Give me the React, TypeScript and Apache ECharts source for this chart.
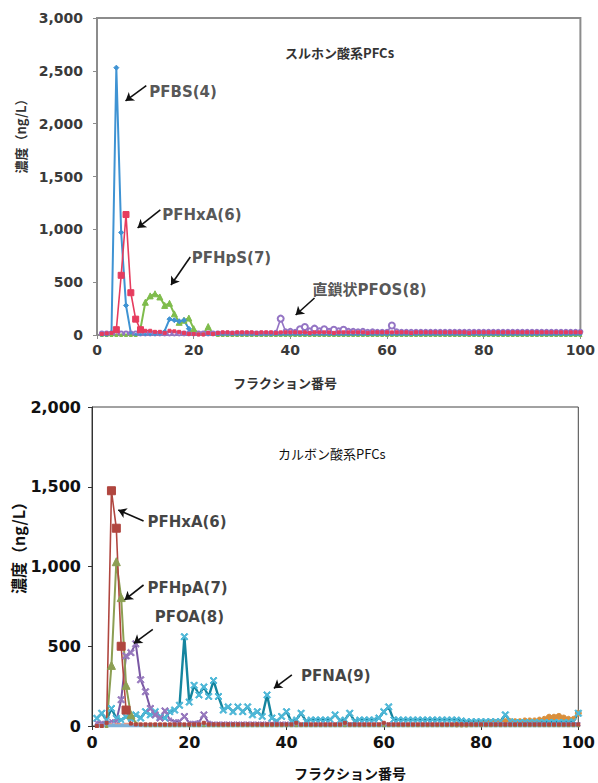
import React, { useEffect, useRef } from "react";
import * as echarts from "echarts";

// Fraction numbers 1..100
const fractions: number[] = [
  1, 2, 3, 4, 5, 6, 7, 8, 9, 10, 11, 12, 13, 14, 15, 16, 17, 18, 19, 20,
  21, 22, 23, 24, 25, 26, 27, 28, 29, 30, 31, 32, 33, 34, 35, 36, 37, 38, 39, 40,
  41, 42, 43, 44, 45, 46, 47, 48, 49, 50, 51, 52, 53, 54, 55, 56, 57, 58, 59, 60,
  61, 62, 63, 64, 65, 66, 67, 68, 69, 70, 71, 72, 73, 74, 75, 76, 77, 78, 79, 80,
  81, 82, 83, 84, 85, 86, 87, 88, 89, 90, 91, 92, 93, 94, 95, 96, 97, 98, 99, 100,
];

const xTicks = [0, 20, 40, 60, 80, 100];
const topYTicks = [0, 500, 1000, 1500, 2000, 2500, 3000];
const botYTicks = [0, 500, 1000, 1500, 2000];

// ---- Top chart: sulfonic acid PFCs ----
const topPFBS: number[] = [
  0, 0, 30, 2530, 970, 280, 20, 5, 5, 5,
  5, 5, 10, 40, 150, 140, 130, 140, 60, 10,
  5, 5, 5, 5, 5, 5, 5, 5, 5, 5,
  5, 5, 5, 5, 5, 5, 5, 5, 5, 5,
  5, 5, 5, 5, 5, 5, 5, 5, 5, 5,
  5, 5, 5, 5, 5, 5, 5, 5, 5, 5,
  5, 5, 5, 5, 5, 5, 5, 5, 5, 5,
  5, 5, 5, 5, 5, 5, 5, 5, 5, 5,
  5, 5, 5, 5, 5, 5, 5, 5, 5, 5,
  5, 5, 5, 5, 5, 5, 5, 5, 5, 5,
];
const topPFHxA: number[] = [
  10, 15, 20, 50, 565, 1140, 400, 150, 50, 40,
  40, 30, 30, 20, 40, 35, 30, 20, 10, 10,
  5, 5, 20, 10, 20, 25, 25, 20, 25, 25,
  25, 25, 20, 25, 25, 25, 20, 25, 25, 25,
  25, 25, 25, 20, 25, 25, 25, 25, 20, 25,
  25, 25, 25, 25, 25, 20, 25, 25, 25, 25,
  25, 25, 25, 25, 20, 25, 25, 25, 25, 25,
  25, 25, 25, 25, 25, 25, 20, 25, 25, 25,
  25, 25, 25, 25, 25, 25, 25, 25, 25, 25,
  25, 25, 25, 25, 25, 25, 25, 25, 25, 25,
];
const topPFHpS: number[] = [
  0, 0, 0, 0, 0, 0, 0, 0, 60, 310,
  370, 390, 360, 280, 300, 200, 120, 140, 160, 60,
  10, 10, 80, 10, 0, 0, 0, 0, 0, 0,
  0, 0, 0, 0, 0, 0, 0, 0, 0, 0,
  0, 0, 0, 0, 0, 0, 0, 0, 0, 0,
  0, 0, 0, 0, 0, 0, 0, 0, 0, 0,
  0, 0, 0, 0, 0, 0, 0, 0, 0, 0,
  0, 0, 0, 0, 0, 0, 0, 0, 0, 0,
  0, 0, 0, 0, 0, 0, 0, 0, 0, 0,
  0, 0, 0, 0, 0, 0, 0, 0, 0, 0,
];
const topPFOS: number[] = [
  15, 15, 15, 15, 15, 15, 15, 15, 15, 15,
  15, 15, 15, 15, 15, 15, 15, 15, 15, 15,
  15, 15, 15, 15, 15, 15, 15, 15, 15, 15,
  15, 15, 15, 15, 15, 15, 20, 155, 35, 40,
  30, 55, 75, 45, 60, 45, 55, 40, 50, 45,
  50, 40, 40, 35, 40, 30, 35, 30, 30, 30,
  90, 35, 30, 30, 30, 30, 30, 30, 30, 30,
  30, 30, 30, 30, 30, 30, 30, 30, 30, 30,
  30, 30, 30, 30, 30, 30, 30, 30, 30, 30,
  30, 30, 30, 30, 30, 30, 30, 30, 30, 30,
];

// ---- Bottom chart: carboxylic acid PFCs ----
const botPFHxA: number[] = [
  0, 0, 20, 1475, 1240, 500, 100, 15, 10, 10,
  10, 10, 10, 10, 10, 10, 10, 10, 10, 10,
  10, 10, 20, 10, 10, 10, 10, 10, 10, 10,
  10, 10, 10, 10, 10, 10, 10, 10, 10, 10,
  10, 20, 10, 10, 10, 10, 10, 10, 10, 10,
  10, 20, 10, 10, 10, 10, 10, 10, 10, 20,
  10, 10, 10, 10, 10, 10, 10, 10, 10, 10,
  10, 10, 10, 10, 10, 10, 10, 10, 10, 10,
  10, 10, 10, 10, 10, 10, 10, 10, 10, 10,
  10, 10, 10, 10, 10, 10, 10, 10, 10, 10,
];
const botPFHpA: number[] = [
  0, 0, 0, 380, 1030, 805, 255, 70, 20, 10,
  5, 5, 5, 5, 5, 5, 5, 5, 5, 5,
  5, 5, 5, 5, 5, 5, 5, 5, 5, 5,
  5, 5, 5, 5, 5, 5, 5, 5, 5, 5,
  5, 5, 5, 5, 5, 5, 5, 5, 5, 5,
  5, 5, 5, 5, 5, 5, 5, 5, 5, 5,
  5, 5, 5, 5, 5, 5, 5, 5, 5, 5,
  5, 5, 5, 5, 5, 5, 5, 5, 5, 5,
  5, 5, 5, 5, 5, 5, 5, 5, 5, 5,
  5, 5, 5, 5, 5, 5, 5, 5, 5, 5,
];
const botPFOA: number[] = [
  20, 20, 20, 30, 30, 165, 440, 460, 515, 290,
  215, 110, 70, 50, 95, 40, 30, 30, 60, 20,
  20, 25, 70, 20, 15, 15, 15, 15, 15, 15,
  15, 15, 15, 15, 15, 15, 15, 15, 15, 15,
  10, 10, 10, 10, 10, 10, 10, 10, 10, 10,
  10, 10, 10, 10, 10, 10, 10, 10, 10, 10,
  10, 10, 10, 10, 10, 10, 10, 10, 10, 10,
  10, 10, 10, 10, 10, 10, 10, 10, 10, 10,
  10, 10, 10, 10, 10, 10, 10, 10, 10, 10,
  10, 10, 10, 10, 10, 10, 10, 10, 10, 10,
];
const botPFNA: number[] = [
  48, 80, 38, 110, 48, 38, 58, 45, 70, 50,
  90, 70, 90, 58, 50, 90, 100, 130, 560, 150,
  255, 195, 245, 185, 285, 185, 100, 120, 90, 120,
  90, 120, 70, 90, 60, 195, 50, 30, 60, 90,
  30, 40, 80, 30, 40, 40, 40, 40, 40, 70,
  35, 40, 80, 30, 40, 40, 40, 40, 50, 90,
  120, 40, 40, 40, 40, 40, 40, 40, 40, 40,
  40, 40, 40, 40, 40, 35, 30, 30, 30, 30,
  30, 30, 30, 30, 70, 30, 25, 25, 25, 25,
  25, 25, 25, 25, 25, 25, 25, 25, 30, 80,
];
const botPFDA: (number | null)[] = [
  null, null, null, null, null, null, null, null, null, null,
  null, null, null, null, null, null, null, null, null, null,
  null, null, null, null, null, null, null, null, null, null,
  null, null, null, null, null, null, null, null, null, null,
  null, null, null, null, null, null, null, null, null, null,
  null, null, null, null, null, null, null, null, null, null,
  null, null, null, null, null, null, null, null, null, null,
  null, null, null, null, 10, 10, 10, 15, 15, 20,
  20, 25, 25, 25, 30, 30, 30, 30, 35, 35,
  35, 40, 45, 55, 55, 60, 50, 45, 45, 80,
];
const botBaseA: number[] = [
  5, 5, 5, 5, 5, 5, 5, 5, 5, 5,
  5, 5, 5, 5, 5, 5, 5, 5, 5, 5,
  5, 5, 5, 5, 5, 5, 5, 5, 5, 5,
  5, 5, 5, 5, 5, 5, 5, 5, 5, 5,
  5, 5, 5, 5, 5, 5, 5, 5, 5, 5,
  5, 5, 5, 5, 5, 5, 5, 5, 5, 5,
  5, 5, 5, 5, 5, 5, 5, 5, 5, 5,
  5, 5, 5, 5, 5, 5, 5, 5, 5, 5,
  5, 5, 5, 5, 5, 5, 5, 5, 5, 5,
  5, 5, 5, 5, 5, 5, 5, 5, 5, 5,
];
const botBaseB: number[] = [
  15, 15, 15, 15, 15, 15, 15, 15, 15, 15,
  15, 15, 15, 15, 15, 15, 15, 15, 15, 15,
  15, 15, 15, 15, 15, 15, 15, 15, 15, 15,
  15, 15, 15, 15, 15, 15, 15, 15, 15, 15,
  15, 15, 15, 15, 15, 15, 15, 15, 15, 15,
  15, 15, 15, 15, 15, 15, 15, 15, 15, 15,
  15, 15, 15, 15, 15, 15, 15, 15, 15, 15,
  15, 15, 15, 15, 15, 15, 15, 15, 15, 15,
  15, 15, 15, 15, 15, 15, 15, 15, 15, 15,
  15, 15, 15, 15, 15, 15, 15, 15, 15, 15,
];

// annotations (data coordinates): text anchor and arrow tail -> head
const topNotes = [
  { text: "PFBS(4)", tx: 10.8, ty: 2300, x1: 10.2, y1: 2360, x2: 5.9, y2: 2215 },
  { text: "PFHxA(6)", tx: 13.5, ty: 1136, x1: 13.1, y1: 1183, x2: 8.4, y2: 1013 },
  { text: "PFHpS(7)", tx: 19.6, ty: 729, x1: 19.3, y1: 738, x2: 15.3, y2: 473 },
  { text: "直鎖状PFOS(8)", tx: 44.6, ty: 426, x1: 45.0, y1: 350, x2: 41.1, y2: 189 },
];
const botNotes = [
  { text: "PFHxA(6)", tx: 11.4, ty: 1279, x1: 10.6, y1: 1285, x2: 5.4, y2: 1354 },
  { text: "PFHpA(7)", tx: 11.4, ty: 865, x1: 10.6, y1: 884, x2: 6.7, y2: 790 },
  { text: "PFOA(8)", tx: 12.9, ty: 683, x1: 12.5, y1: 606, x2: 8.6, y2: 518 },
  { text: "PFNA(9)", tx: 43.0, ty: 313, x1: 41.1, y1: 320, x2: 37.4, y2: 236 },
];

const LAT = '"DejaVu Sans", "Liberation Sans", sans-serif';
const CJK = '"Noto Sans CJK JP", sans-serif';
const XMARK =
  "path://M0,1.5L1.5,0L5,3.5L8.5,0L10,1.5L6.5,5L10,8.5L8.5,10L5,6.5L1.5,10L0,8.5L3.5,5Z";

function pairs(arr: (number | null)[]) {
  const out: [number, number][] = [];
  fractions.forEach((f, i) => {
    const v = arr[i];
    if (v !== null && v !== undefined) out.push([f, v]);
  });
  return out;
}

function lineSeries(
  name: string,
  arr: (number | null)[],
  axis: number,
  color: string,
  markColor: string,
  symbol: string,
  big: number,
  small: number,
  width: number,
  extra: any = {}
) {
  return {
    name,
    type: "line",
    xAxisIndex: axis,
    yAxisIndex: axis,
    data: pairs(arr),
    symbol,
    symbolSize: (v: number[]) => (v[1] > 45 ? big : small),
    showAllSymbol: true,
    lineStyle: { color, width, ...(extra.lineStyle || {}) },
    itemStyle: { color: markColor, borderColor: markColor },
    silent: true,
  };
}

function noteSeries(notes: typeof topNotes, axis: number, color: string) {
  return [
    {
      type: "lines",
      coordinateSystem: "cartesian2d",
      xAxisIndex: axis,
      yAxisIndex: axis,
      symbol: ["none", "arrow"],
      symbolSize: 8,
      lineStyle: { color: "#111", width: 1.6, opacity: 1, curveness: 0 },
      data: notes.map((n) => ({ coords: [[n.x1, n.y1], [n.x2, n.y2]] })),
      silent: true,
      z: 20,
    },
    {
      type: "scatter",
      xAxisIndex: axis,
      yAxisIndex: axis,
      symbolSize: 0,
      itemStyle: { color: "rgba(0,0,0,0)" },
      data: notes.map((n) => ({ value: [n.tx, n.ty], name: n.text })),
      label: {
        show: true,
        position: "right",
        distance: 0,
        formatter: "{b}",
        fontFamily: `${LAT}, ${CJK}`,
        fontWeight: "bold",
        fontSize: 15,
        color,
      },
      silent: true,
      z: 20,
    },
  ];
}

export default function App() {
  const ref = useRef<HTMLDivElement>(null);
  useEffect(() => {
    if (!ref.current) return;
    const chart = echarts.init(ref.current, null, { renderer: "svg" });
    const fmt = (v: number) => v.toLocaleString("en-US");
    const xAxisBase = (grid: number, color: string, lw: number, fs: number, lc: string) => ({
      type: "value",
      gridIndex: grid,
      min: xTicks[0],
      max: xTicks[xTicks.length - 1],
      interval: xTicks[1] - xTicks[0],
      axisLine: { show: true, lineStyle: { color, width: lw } },
      axisTick: { show: true, inside: false, length: 4, lineStyle: { color, width: 1 } },
      splitLine: { show: false },
      axisLabel: { fontFamily: LAT, fontWeight: "bold", fontSize: fs, color: lc, margin: 8 },
    });
    const yAxisBase = (grid: number, ticks: number[], color: string, lw: number, fs: number, lc: string, margin: number) => ({
      type: "value",
      gridIndex: grid,
      min: ticks[0],
      max: ticks[ticks.length - 1],
      interval: ticks[1] - ticks[0],
      axisLine: { show: true, lineStyle: { color, width: lw } },
      axisTick: { show: true, inside: false, length: 4, lineStyle: { color, width: 1 } },
      splitLine: { show: false },
      axisLabel: { fontFamily: LAT, fontWeight: "bold", fontSize: fs, color: lc, margin, formatter: fmt },
    });

    chart.setOption({
      animation: false,
      backgroundColor: "#ffffff",
      grid: [
        { left: 97, top: 18, width: 489, height: 317, show: true, borderColor: "#8c8c8c", borderWidth: 2, backgroundColor: "#fff" },
        { left: 92, top: 407, width: 490, height: 319, show: true, borderColor: "#444", borderWidth: 1, backgroundColor: "#fff" },
      ],
      xAxis: [
        xAxisBase(0, "#8c8c8c", 2, 14, "#3a3a3a"),
        xAxisBase(1, "#333", 1, 16, "#111"),
      ],
      yAxis: [
        yAxisBase(0, topYTicks, "#8c8c8c", 2, 14, "#3a3a3a", 14),
        yAxisBase(1, botYTicks, "#333", 1, 16, "#111", 11),
      ],
      graphic: [
        { type: "text", x: 20, y: 133, rotation: Math.PI / 2, style: { text: "濃度（ng/L）", font: `bold 13px ${CJK}`, fill: "#333", textAlign: "center", textVerticalAlign: "middle" } },
        { type: "text", x: 285, y: 382, style: { text: "フラクション番号", font: `bold 13px ${CJK}`, fill: "#333", textAlign: "center", textVerticalAlign: "middle" } },
        { type: "text", x: 285, y: 52, style: { text: "スルホン酸系PFCs", font: `bold 13px ${CJK}`, fill: "#333", textAlign: "left", textVerticalAlign: "middle" } },
        { type: "text", x: 18, y: 544, rotation: Math.PI / 2, style: { text: "濃度（ng/L）", font: `bold 16px ${CJK}`, fill: "#111", textAlign: "center", textVerticalAlign: "middle" } },
        { type: "text", x: 350, y: 773, style: { text: "フラクション番号", font: `bold 14px ${CJK}`, fill: "#111", textAlign: "center", textVerticalAlign: "middle" } },
        { type: "text", x: 278, y: 453, style: { text: "カルボン酸系PFCs", font: `13px ${CJK}`, fill: "#111", textAlign: "left", textVerticalAlign: "middle" } },
      ],
      series: [
        lineSeries("PFOS", topPFOS, 0, "#9474c4", "#9474c4", "emptyCircle", 6, 4, 1.6),
        lineSeries("PFHpS", topPFHpS, 0, "#7fbc4c", "#7fbc4c", "triangle", 6, 3, 2),
        lineSeries("PFBS", topPFBS, 0, "#3f93d3", "#3f93d3", "diamond", 5, 3, 2),
        lineSeries("PFHxA_top", topPFHxA, 0, "#e63c5e", "#e63c5e", "rect", 6, 3, 1.6),
        ...noteSeries(topNotes, 0, "#2a2a2a"),
        lineSeries("PFDA", botPFDA, 1, "#d98f3c", "#d98f3c", "circle", 6, 5, 2),
        lineSeries("PFNA", botPFNA, 1, "#15859f", "#4fb8d8", XMARK, 7, 6, 2.4),
        lineSeries("PFOA", botPFOA, 1, "#7a58a4", "#9678bd", XMARK, 7, 4, 2),
        lineSeries("PFHpA", botPFHpA, 1, "#8c9f53", "#8c9f53", "triangle", 8, 3, 2),
        lineSeries("PFHxA_bot", botPFHxA, 1, "#b0463f", "#b0463f", "rect", 8, 3, 1.6),
        lineSeries("baseA", botBaseA, 1, "#7cb0d8", "#7cb0d8", "none", 0, 0, 4),
        lineSeries("baseB", botBaseB, 1, "#e59b86", "#e59b86", "none", 0, 0, 1.5, { lineStyle: { type: "dashed" } }),
        ...noteSeries(botNotes, 1, "#111"),
      ],
    });
    return () => chart.dispose();
  }, []);
  return (
    <div
      ref={ref}
      style={{ position: "fixed", left: 0, top: 0, width: 598, height: 783, background: "#fff" }}
    />
  );
}
